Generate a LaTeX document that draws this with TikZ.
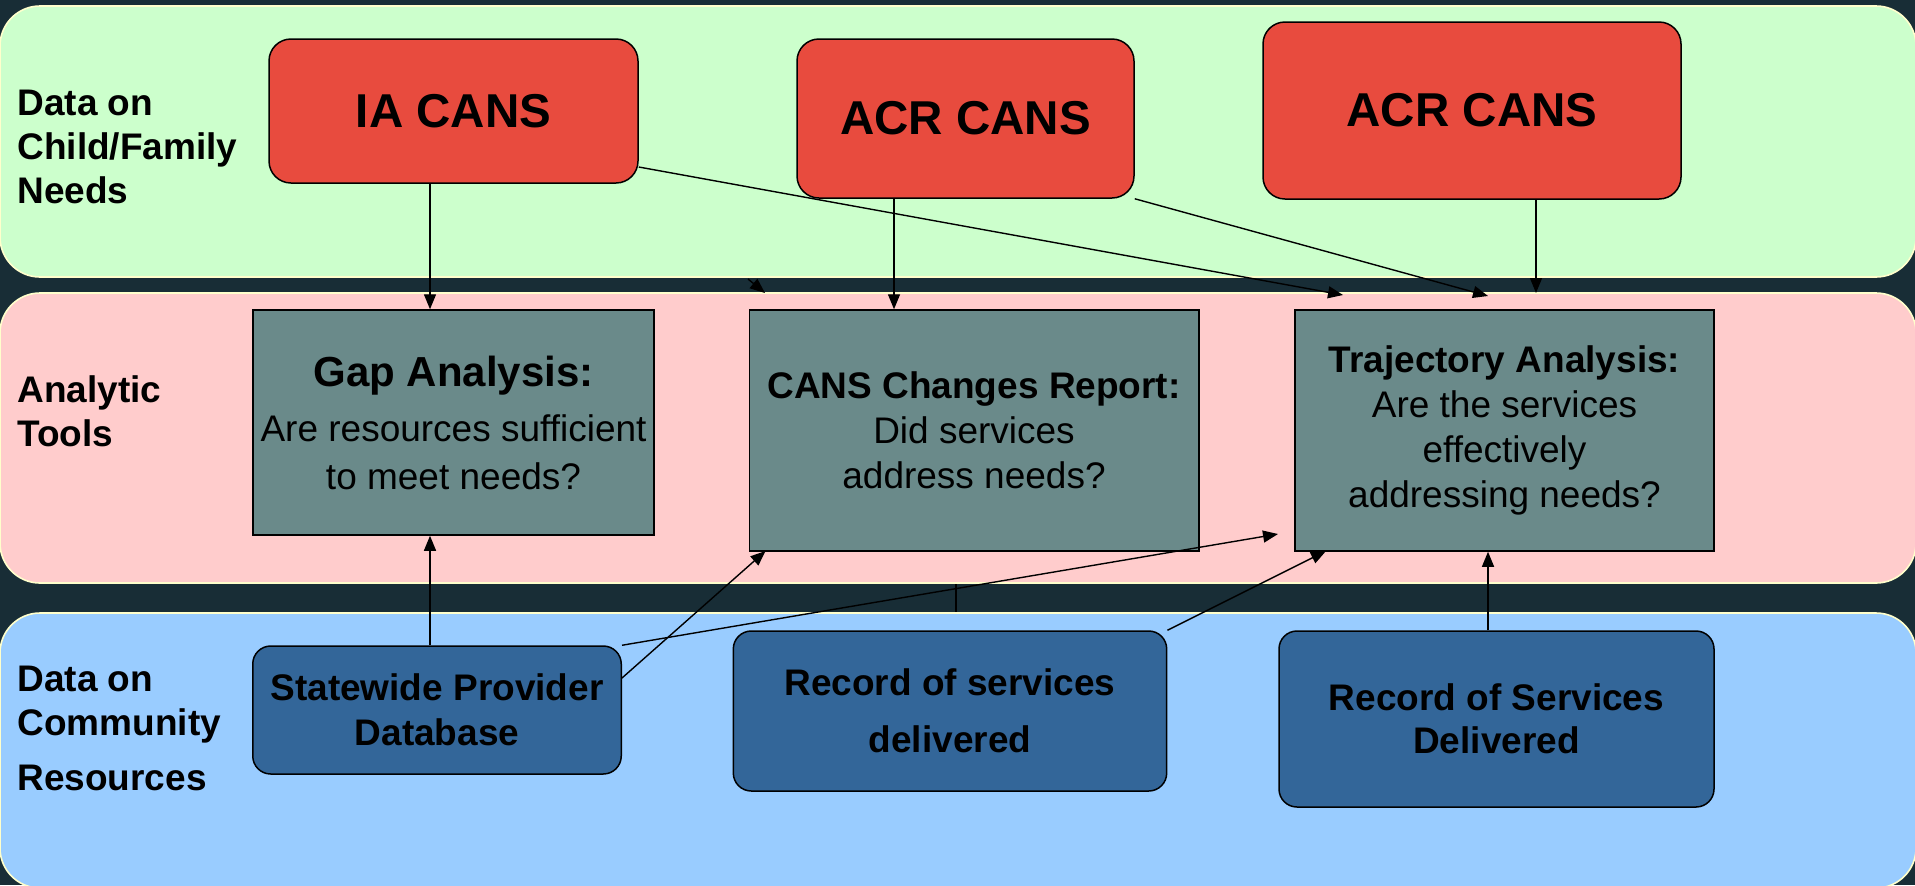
\documentclass[tikz,border=0pt]{standalone}
\usepackage{fontspec}
\setmainfont{Liberation Sans}
\usetikzlibrary{arrows.meta}
\pgfdeclarelayer{back}
\pgfdeclarelayer{bands}
\pgfsetlayers{back,bands,main}
\definecolor{darkbg}{HTML}{182D36}
\definecolor{greenband}{HTML}{CCFFCC}
\definecolor{pinkband}{HTML}{FFCCCC}
\definecolor{blueband}{HTML}{99CCFF}
\definecolor{creamline}{HTML}{FFFFCC}
\definecolor{redc}{HTML}{E84B3E}
\definecolor{grayc}{HTML}{6A8A8A}
\definecolor{bluec}{HTML}{336699}
\newcommand\myfs[2]{\fontsize{#1}{#2}\selectfont}
\begin{document}
\begin{tikzpicture}[x=0.5pt,y=-0.5pt,
  band/.style={draw=creamline, line width=0.8pt, rounded corners=20pt},
  redbox/.style={draw=black, fill=redc, line width=0.75pt, rounded corners=11pt, inner sep=0pt, font=\myfs{23.75}{28}\bfseries},
  graybox/.style={draw=black, fill=grayc, line width=0.75pt, inner sep=0pt, align=center, font=\myfs{18.5}{22.5}},
  bluebox/.style={draw=black, fill=bluec, line width=0.75pt, rounded corners=9pt, inner sep=0pt, align=center, font=\myfs{18.5}{22.5}\bfseries},
  lbl/.style={anchor=west, inner sep=0pt, align=left, font=\myfs{18.5}{22}\bfseries},
  arr/.style={-{Triangle[length=7.5pt,width=6pt]}, line width=0.7pt},
  plain/.style={line width=0.7pt}]
\useasboundingbox (0,0) rectangle (1915,885);
\begin{pgfonlayer}{back}
\fill[darkbg] (0,0) rectangle (1915,885);
\end{pgfonlayer}
\begin{pgfonlayer}{bands}
\filldraw[band, fill=greenband] (0,6) rectangle (1916,277);
\filldraw[band, fill=pinkband] (0,293) rectangle (1916,583);
\filldraw[band, fill=blueband] (0,613) rectangle (1916,888);
\end{pgfonlayer}

% row labels
\node[lbl] (l1) at (17,146.5) {Data on\\Child/Family\\Needs};
\node[lbl] (l2) at (17,411.5) {Analytic\\Tools};
\node[lbl] (l3) at (17,728) {Data on\\Community\\[5.5pt]Resources};

% red boxes
\node[redbox, minimum width=184.5pt, minimum height=72pt] (ia) at (453.5,111) {IA CANS};
\node[redbox, minimum width=168.5pt, minimum height=79.5pt] (acr1) at (965.5,118.5) {ACR CANS};
\node[redbox, minimum width=209pt, minimum height=88.5pt] (acr2) at (1472,110.5) {ACR CANS};

% gray boxes
\node[graybox, minimum width=200.5pt, minimum height=112.5pt, font=\myfs{18.5}{24}] (gap) at (453.5,422.5)
  {{\myfs{21}{24}\bfseries Gap Analysis:}\\[3.5pt]Are resources sufficient\\to meet needs?};
\node[graybox, minimum width=224.75pt, minimum height=120.5pt] (ccr) at (974,430.5)
  {\textbf{CANS Changes Report:}\\Did services\\address needs?};
\node[graybox, minimum width=209.5pt, minimum height=120.5pt] (traj) at (1504.5,430.5)
  {\textbf{Trajectory Analysis:}\\Are the services\\effectively\\addressing needs?};

% blue boxes
\node[bluebox, minimum width=184.25pt, minimum height=64pt] (spd) at (437,710) {Statewide Provider\\Database};
\node[bluebox, minimum width=216.7pt, minimum height=80pt, font=\myfs{18.5}{28.5}\bfseries] (rsd) at (950,711) {Record of services\\delivered};
\node[bluebox, minimum width=217.5pt, minimum height=88pt, font=\myfs{18.5}{21.5}\bfseries] (rsd2) at (1496.5,719) {Record of Services\\Delivered};

% helper coordinates
\coordinate (x1) at (430,0);
\coordinate (x2) at (894,0);
\coordinate (t3) at (1536,293);
\coordinate (s4) at (0,167);
\coordinate (t4) at (1343,295);
\coordinate (t5) at (1488,296);
\coordinate (s6) at (748,279);
\coordinate (t6) at (765,293);
\coordinate (s8) at (0,678);
\coordinate (t8) at (765.5,551);
\coordinate (t9) at (1278,534);
\coordinate (x10) at (956,0);
\coordinate (t11) at (1326,551);
\coordinate (x12) at (1488,0);

% connectors
\draw[arr] (ia.south -| x1) -- (gap.north -| x1);
\draw[arr] (acr1.south -| x2) -- (ccr.north -| x2);
\draw[arr] (acr2.south -| t3) -- (t3);
\draw[arr] (ia.east |- s4) -- (t4);
\draw[arr] (acr1.south east) -- (t5);
\draw[arr] (s6) -- (t6);
\draw[arr] (spd.north -| x1) -- (gap.south -| x1);
\draw[arr] (spd.east |- s8) -- (t8);
\draw[arr] (spd.north east) -- (t9);
\begin{pgfonlayer}{back}
\draw[plain] (ccr.south -| x10) -- (rsd.north -| x10);
\end{pgfonlayer}
\draw[arr] (rsd.north east) -- (t11);
\draw[arr] (rsd2.north -| x12) -- (traj.south -| x12);
\end{tikzpicture}
\end{document}
